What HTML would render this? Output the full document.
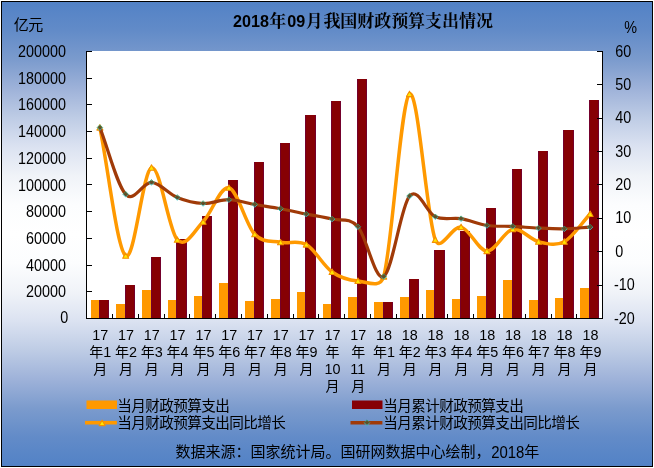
<!DOCTYPE html>
<html lang="zh-CN">
<head>
<meta charset="utf-8">
<title>2018年09月我国财政预算支出情况</title>
<style>
html,body{margin:0;padding:0;background:#fff}
body{width:654px;height:468px;overflow:hidden;font-family:"Liberation Sans",sans-serif}
svg{display:block}
svg text{font-family:"Liberation Sans","Noto Sans CJK SC",sans-serif}
svg text.ts{font-family:"Liberation Serif","Noto Serif CJK SC",serif;font-weight:bold}
</style>
</head>
<body>
<svg style="will-change:transform" width="654" height="468" viewBox="0 0 654 468" role="img">
<defs>
<linearGradient id="bg" x1="0" y1="0" x2="0" y2="1">
<stop offset="0" stop-color="#5282C6"/>
<stop offset="0.0625" stop-color="#628BC8"/>
<stop offset="0.125" stop-color="#7B9BCD"/>
<stop offset="0.1875" stop-color="#9EB2D9"/>
<stop offset="0.25" stop-color="#BECCE5"/>
<stop offset="0.3125" stop-color="#DBE2F1"/>
<stop offset="0.375" stop-color="#F0F3F8"/>
<stop offset="0.4375" stop-color="#FCFDFE"/>
<stop offset="0.5" stop-color="#FFFFFF"/>
<stop offset="0.5625" stop-color="#FCFDFE"/>
<stop offset="0.625" stop-color="#F0F3F8"/>
<stop offset="0.6875" stop-color="#DBE2F1"/>
<stop offset="0.75" stop-color="#BECCE5"/>
<stop offset="0.8125" stop-color="#9EB2D9"/>
<stop offset="0.875" stop-color="#7B9BCD"/>
<stop offset="0.9375" stop-color="#628BC8"/>
<stop offset="1" stop-color="#5282C6"/>
</linearGradient>
</defs>
<rect x="0" y="0" width="654" height="468" fill="#fff"/>
<rect x="1.5" y="1.5" width="651" height="465" fill="url(#bg)" stroke="#000" stroke-width="1"/>
<rect x="86" y="51" width="517" height="268" fill="#fff"/>
<g shape-rendering="crispEdges">
<rect x="91" y="300.34" width="8" height="17.66" fill="#FF9900"/>
<rect x="99" y="300.34" width="10" height="17.66" fill="#860004"/>
<rect x="116" y="304.22" width="9" height="13.78" fill="#FF9900"/>
<rect x="125" y="285.31" width="10" height="32.69" fill="#860004"/>
<rect x="142" y="290.39" width="9" height="27.61" fill="#FF9900"/>
<rect x="151" y="257.2" width="10" height="60.8" fill="#860004"/>
<rect x="168" y="300.06" width="8" height="17.94" fill="#FF9900"/>
<rect x="176" y="238.76" width="11" height="79.24" fill="#860004"/>
<rect x="194" y="296.09" width="8" height="21.91" fill="#FF9900"/>
<rect x="202" y="216.35" width="10" height="101.65" fill="#860004"/>
<rect x="219" y="282.5" width="9" height="35.5" fill="#FF9900"/>
<rect x="228" y="180.35" width="10" height="137.65" fill="#860004"/>
<rect x="245" y="300.51" width="9" height="17.49" fill="#FF9900"/>
<rect x="254" y="162.36" width="10" height="155.64" fill="#860004"/>
<rect x="271" y="298.91" width="9" height="19.09" fill="#FF9900"/>
<rect x="280" y="142.78" width="10" height="175.22" fill="#860004"/>
<rect x="297" y="291.5" width="8" height="26.5" fill="#FF9900"/>
<rect x="305" y="115.05" width="11" height="202.95" fill="#860004"/>
<rect x="323" y="304.18" width="8" height="13.82" fill="#FF9900"/>
<rect x="331" y="101.45" width="10" height="216.55" fill="#860004"/>
<rect x="348" y="297.41" width="9" height="20.59" fill="#FF9900"/>
<rect x="357" y="78.79" width="10" height="239.21" fill="#860004"/>
<rect x="374" y="301.61" width="9" height="16.39" fill="#FF9900"/>
<rect x="383" y="301.61" width="10" height="16.39" fill="#860004"/>
<rect x="400" y="297.27" width="9" height="20.73" fill="#FF9900"/>
<rect x="409" y="279.4" width="10" height="38.6" fill="#860004"/>
<rect x="426" y="289.52" width="8" height="28.48" fill="#FF9900"/>
<rect x="434" y="250.42" width="11" height="67.58" fill="#860004"/>
<rect x="452" y="299.21" width="8" height="18.79" fill="#FF9900"/>
<rect x="460" y="231.46" width="10" height="86.54" fill="#860004"/>
<rect x="477" y="296.34" width="9" height="21.66" fill="#FF9900"/>
<rect x="486" y="208.1" width="10" height="109.9" fill="#860004"/>
<rect x="503" y="280.32" width="9" height="37.68" fill="#FF9900"/>
<rect x="512" y="168.71" width="10" height="149.29" fill="#860004"/>
<rect x="529" y="300.21" width="9" height="17.79" fill="#FF9900"/>
<rect x="538" y="150.91" width="10" height="167.09" fill="#860004"/>
<rect x="555" y="298.34" width="8" height="19.66" fill="#FF9900"/>
<rect x="563" y="129.86" width="11" height="188.14" fill="#860004"/>
<rect x="580" y="288.42" width="9" height="29.58" fill="#FF9900"/>
<rect x="589" y="99.96" width="10" height="218.04" fill="#860004"/>
<path d="M99.5 300.34V318M108.5 300.34V318M125.5 285.31V318M134.5 285.31V318M151.5 257.2V318M160.5 257.2V318M176.5 238.76V318M186.5 238.76V318M202.5 216.35V318M211.5 216.35V318M228.5 180.35V318M237.5 180.35V318M254.5 162.36V318M263.5 162.36V318M280.5 142.78V318M289.5 142.78V318M305.5 115.05V318M315.5 115.05V318M331.5 101.45V318M340.5 101.45V318M357.5 78.79V318M366.5 78.79V318M383.5 301.61V318M392.5 301.61V318M409.5 279.4V318M418.5 279.4V318M434.5 250.42V318M444.5 250.42V318M460.5 231.46V318M469.5 231.46V318M486.5 208.1V318M495.5 208.1V318M512.5 168.71V318M521.5 168.71V318M538.5 150.91V318M547.5 150.91V318M563.5 129.86V318M573.5 129.86V318M589.5 99.96V318M598.5 99.96V318" stroke="#6E0038" stroke-opacity="0.75" stroke-width="1" fill="none"/>
</g>
<path d="M86.5 51V319M602.5 51V319M86 318.5H603M87 51.5H92M87 78.5H92M87 104.5H92M87 131.5H92M87 158.5H92M87 184.5H92M87 211.5H92M87 238.5H92M87 265.5H92M87 291.5H92M87 318.5H92M597 51.5H602M597 84.5H602M597 118.5H602M597 151.5H602M597 184.5H602M597 218.5H602M597 251.5H602M597 285.5H602M597 318.5H602M112.5 314V318M138.5 314V318M164.5 314V318M189.5 314V318M215.5 314V318M241.5 314V318M267.5 314V318M293.5 314V318M318.5 314V318M344.5 314V318M370.5 314V318M396.5 314V318M422.5 314V318M447.5 314V318M473.5 314V318M499.5 314V318M525.5 314V318M551.5 314V318M576.5 314V318" fill="none" stroke="#000" stroke-width="1" shape-rendering="crispEdges"/>
<path d="M99.9 127.6C108.5 170.33 117.1 249.12 125.7 255.8C134.3 262.48 142.9 170.37 151.5 167.7C160.1 165.03 168.7 230.78 177.3 239.8C185.9 248.82 194.5 230.47 203.1 221.8C211.7 213.13 220.3 185.72 228.9 187.8C237.5 189.88 246.1 225.22 254.7 234.3C263.3 243.38 271.9 240.58 280.5 242.3C289.1 244.02 297.7 239.65 306.3 244.6C314.9 249.55 323.5 265.93 332.1 272C340.7 278.07 349.3 280.23 357.9 281C366.5 281.77 380.22 289.21 383.7 276.6C392.3 245.45 400.9 100.22 409.5 94.1C418.1 87.98 426.7 217.73 435.3 239.9C440.51 253.33 452.5 225.23 461.1 227.1C469.7 228.97 478.3 250.75 486.9 251.1C495.5 251.45 504.1 230.77 512.7 229.2C521.3 227.63 529.9 239.62 538.5 241.7C547.1 243.78 555.7 246.32 564.3 241.7C572.9 237.08 581.5 223.23 590.1 214" fill="none" stroke="#FF9900" stroke-width="3.5" stroke-linejoin="round" stroke-linecap="round"/>
<path d="M99.9 124.7 L102.9 130.1 L96.9 130.1 ZM125.7 252.9 L128.7 258.3 L122.7 258.3 ZM151.5 164.8 L154.5 170.2 L148.5 170.2 ZM177.3 236.9 L180.3 242.3 L174.3 242.3 ZM203.1 218.9 L206.1 224.3 L200.1 224.3 ZM228.9 184.9 L231.9 190.3 L225.9 190.3 ZM254.7 231.4 L257.7 236.8 L251.7 236.8 ZM280.5 239.4 L283.5 244.8 L277.5 244.8 ZM306.3 241.7 L309.3 247.1 L303.3 247.1 ZM332.1 269.1 L335.1 274.5 L329.1 274.5 ZM357.9 278.1 L360.9 283.5 L354.9 283.5 ZM383.7 273.7 L386.7 279.1 L380.7 279.1 ZM409.5 91.2 L412.5 96.6 L406.5 96.6 ZM435.3 237 L438.3 242.4 L432.3 242.4 ZM461.1 224.2 L464.1 229.6 L458.1 229.6 ZM486.9 248.2 L489.9 253.6 L483.9 253.6 ZM512.7 226.3 L515.7 231.7 L509.7 231.7 ZM538.5 238.8 L541.5 244.2 L535.5 244.2 ZM564.3 238.8 L567.3 244.2 L561.3 244.2 ZM590.1 211.1 L593.1 216.5 L587.1 216.5 Z" fill="#FFE800" stroke="#F59000" stroke-width="1.1" stroke-linejoin="round"/>
<path d="M99.9 127.6C108.5 149.83 117.1 185.17 125.7 194.3C134.3 203.43 142.9 181.87 151.5 182.4C160.1 182.93 168.7 193.98 177.3 197.5C185.9 201.02 194.5 203.13 203.1 203.5C211.7 203.87 220.3 199.53 228.9 199.7C237.5 199.87 246.1 203 254.7 204.5C263.3 206 271.9 207.1 280.5 208.7C289.1 210.3 297.7 212.38 306.3 214.1C314.9 215.82 323.5 216.9 332.1 219C340.7 221.1 349.3 217.1 357.9 226.7C366.5 236.3 375.1 281.7 383.7 276.6C392.3 271.5 400.9 206.07 409.5 196.1C418.1 186.13 426.7 213.03 435.3 216.8C443.9 220.57 452.5 217.25 461.1 218.7C469.7 220.15 478.3 224.22 486.9 225.5C495.5 226.78 504.1 225.97 512.7 226.4C521.3 226.83 529.9 227.7 538.5 228.1C547.1 228.5 555.7 228.97 564.3 228.8C572.9 228.63 581.5 227.67 590.1 227.1" fill="none" stroke="#A03A08" stroke-width="3.2" stroke-linejoin="round" stroke-linecap="round"/>
<path d="M99.9 124.8 L102.7 127.6 L99.9 130.4 L97.1 127.6 ZM125.7 191.5 L128.5 194.3 L125.7 197.1 L122.9 194.3 ZM151.5 179.6 L154.3 182.4 L151.5 185.2 L148.7 182.4 ZM177.3 194.7 L180.1 197.5 L177.3 200.3 L174.5 197.5 ZM203.1 200.7 L205.9 203.5 L203.1 206.3 L200.3 203.5 ZM228.9 196.9 L231.7 199.7 L228.9 202.5 L226.1 199.7 ZM254.7 201.7 L257.5 204.5 L254.7 207.3 L251.9 204.5 ZM280.5 205.9 L283.3 208.7 L280.5 211.5 L277.7 208.7 ZM306.3 211.3 L309.1 214.1 L306.3 216.9 L303.5 214.1 ZM332.1 216.2 L334.9 219 L332.1 221.8 L329.3 219 ZM357.9 223.9 L360.7 226.7 L357.9 229.5 L355.1 226.7 ZM383.7 273.8 L386.5 276.6 L383.7 279.4 L380.9 276.6 ZM409.5 193.3 L412.3 196.1 L409.5 198.9 L406.7 196.1 ZM435.3 214 L438.1 216.8 L435.3 219.6 L432.5 216.8 ZM461.1 215.9 L463.9 218.7 L461.1 221.5 L458.3 218.7 ZM486.9 222.7 L489.7 225.5 L486.9 228.3 L484.1 225.5 ZM512.7 223.6 L515.5 226.4 L512.7 229.2 L509.9 226.4 ZM538.5 225.3 L541.3 228.1 L538.5 230.9 L535.7 228.1 ZM564.3 226 L567.1 228.8 L564.3 231.6 L561.5 228.8 ZM590.1 224.3 L592.9 227.1 L590.1 229.9 L587.3 227.1 Z" fill="#2F5F45" fill-opacity="0.55"/>
<path d="M97.1 127.6 L99.9 130.4 L102.7 127.6M122.9 194.3 L125.7 197.1 L128.5 194.3M148.7 182.4 L151.5 185.2 L154.3 182.4M174.5 197.5 L177.3 200.3 L180.1 197.5M200.3 203.5 L203.1 206.3 L205.9 203.5M226.1 199.7 L228.9 202.5 L231.7 199.7M251.9 204.5 L254.7 207.3 L257.5 204.5M277.7 208.7 L280.5 211.5 L283.3 208.7M303.5 214.1 L306.3 216.9 L309.1 214.1M329.3 219 L332.1 221.8 L334.9 219M355.1 226.7 L357.9 229.5 L360.7 226.7M380.9 276.6 L383.7 279.4 L386.5 276.6M406.7 196.1 L409.5 198.9 L412.3 196.1M432.5 216.8 L435.3 219.6 L438.1 216.8M458.3 218.7 L461.1 221.5 L463.9 218.7M484.1 225.5 L486.9 228.3 L489.7 225.5M509.9 226.4 L512.7 229.2 L515.5 226.4M535.7 228.1 L538.5 230.9 L541.3 228.1M561.5 228.8 L564.3 231.6 L567.1 228.8M587.3 227.1 L590.1 229.9 L592.9 227.1" fill="none" stroke="#33CCCC" stroke-opacity="0.85" stroke-width="0.9"/>
<path d="M97.1 127.6 L99.9 124.8 L102.7 127.6M122.9 194.3 L125.7 191.5 L128.5 194.3M148.7 182.4 L151.5 179.6 L154.3 182.4M174.5 197.5 L177.3 194.7 L180.1 197.5M200.3 203.5 L203.1 200.7 L205.9 203.5M226.1 199.7 L228.9 196.9 L231.7 199.7M251.9 204.5 L254.7 201.7 L257.5 204.5M277.7 208.7 L280.5 205.9 L283.3 208.7M303.5 214.1 L306.3 211.3 L309.1 214.1M329.3 219 L332.1 216.2 L334.9 219M355.1 226.7 L357.9 223.9 L360.7 226.7M380.9 276.6 L383.7 273.8 L386.5 276.6M406.7 196.1 L409.5 193.3 L412.3 196.1M432.5 216.8 L435.3 214 L438.1 216.8M458.3 218.7 L461.1 215.9 L463.9 218.7M484.1 225.5 L486.9 222.7 L489.7 225.5M509.9 226.4 L512.7 223.6 L515.5 226.4M535.7 228.1 L538.5 225.3 L541.3 228.1M561.5 228.8 L564.3 226 L567.1 228.8M587.3 227.1 L590.1 224.3 L592.9 227.1" fill="none" stroke="#339966" stroke-opacity="0.85" stroke-width="0.9"/>
<g fill="#000">
<g aria-label="2018年09月我国财政预算支出情况"><title>2018年09月我国财政预算支出情况</title>
<text transform="translate(233.1 26.5) scale(1.0117 1)" font-size="16" font-weight="bold">2018</text>
<text class="ts" x="269.2" y="26.9" font-size="17">年</text>
<text transform="translate(287.2 26.5) scale(1.0117 1)" font-size="16" font-weight="bold">09</text>
<text class="ts" x="305.8" y="26.9" font-size="17">月</text>
<text class="ts" x="323.38" y="26.9" font-size="17" letter-spacing="-0.05">我国财政预算支出情况</text>
</g>
<g aria-label="亿元"><title>亿元</title>
<text x="13.75" y="29.6" font-size="15" letter-spacing="-0.5">亿元</text>
</g>
<text transform="translate(624.3 33.2) scale(0.9165 1)" font-size="15.7">%</text>
<text transform="translate(18 57) scale(0.9165 1)" font-size="15.7">200000</text>
<text transform="translate(18 83.7) scale(0.9165 1)" font-size="15.7">180000</text>
<text transform="translate(18 110.4) scale(0.9165 1)" font-size="15.7">160000</text>
<text transform="translate(18 137.1) scale(0.9165 1)" font-size="15.7">140000</text>
<text transform="translate(18 163.8) scale(0.9165 1)" font-size="15.7">120000</text>
<text transform="translate(18 190.5) scale(0.9165 1)" font-size="15.7">100000</text>
<text transform="translate(26 217.2) scale(0.9165 1)" font-size="15.7">80000</text>
<text transform="translate(26 243.9) scale(0.9165 1)" font-size="15.7">60000</text>
<text transform="translate(26 270.6) scale(0.9165 1)" font-size="15.7">40000</text>
<text transform="translate(26 297.3) scale(0.9165 1)" font-size="15.7">20000</text>
<text transform="translate(60.2 323.4) scale(0.9165 1)" font-size="15.7">0</text>
<text transform="translate(615.3 56.5) scale(0.9165 1)" font-size="15.7">60</text>
<text transform="translate(615.3 89.88) scale(0.9165 1)" font-size="15.7">50</text>
<text transform="translate(615.3 123.25) scale(0.9165 1)" font-size="15.7">40</text>
<text transform="translate(615.3 156.62) scale(0.9165 1)" font-size="15.7">30</text>
<text transform="translate(615.3 190) scale(0.9165 1)" font-size="15.7">20</text>
<text transform="translate(615.3 223.38) scale(0.9165 1)" font-size="15.7">10</text>
<text transform="translate(615.3 256.75) scale(0.9165 1)" font-size="15.7">0</text>
<text transform="translate(614 290.12) scale(0.9165 1)" font-size="15.7">-10</text>
<text transform="translate(614 323.5) scale(0.9165 1)" font-size="15.7">-20</text>
<g aria-label="17年1月"><title>17年1月</title>
<text transform="translate(92.2 339.9) scale(1.0062 1)" font-size="14.3">17</text>
<text x="89.2" y="357.4" font-size="14">年</text>
<text transform="translate(103.2 356.8) scale(1.0062 1)" font-size="14.3">1</text>
<text x="93.2" y="374.3" font-size="14">月</text>
</g>
<g aria-label="17年2月"><title>17年2月</title>
<text transform="translate(118 339.9) scale(1.0062 1)" font-size="14.3">17</text>
<text x="115" y="357.4" font-size="14">年</text>
<text transform="translate(129 356.8) scale(1.0062 1)" font-size="14.3">2</text>
<text x="119" y="374.3" font-size="14">月</text>
</g>
<g aria-label="17年3月"><title>17年3月</title>
<text transform="translate(143.8 339.9) scale(1.0062 1)" font-size="14.3">17</text>
<text x="140.8" y="357.4" font-size="14">年</text>
<text transform="translate(154.8 356.8) scale(1.0062 1)" font-size="14.3">3</text>
<text x="144.8" y="374.3" font-size="14">月</text>
</g>
<g aria-label="17年4月"><title>17年4月</title>
<text transform="translate(169.6 339.9) scale(1.0062 1)" font-size="14.3">17</text>
<text x="166.6" y="357.4" font-size="14">年</text>
<text transform="translate(180.6 356.8) scale(1.0062 1)" font-size="14.3">4</text>
<text x="170.6" y="374.3" font-size="14">月</text>
</g>
<g aria-label="17年5月"><title>17年5月</title>
<text transform="translate(195.4 339.9) scale(1.0062 1)" font-size="14.3">17</text>
<text x="192.4" y="357.4" font-size="14">年</text>
<text transform="translate(206.4 356.8) scale(1.0062 1)" font-size="14.3">5</text>
<text x="196.4" y="374.3" font-size="14">月</text>
</g>
<g aria-label="17年6月"><title>17年6月</title>
<text transform="translate(221.2 339.9) scale(1.0062 1)" font-size="14.3">17</text>
<text x="218.2" y="357.4" font-size="14">年</text>
<text transform="translate(232.2 356.8) scale(1.0062 1)" font-size="14.3">6</text>
<text x="222.2" y="374.3" font-size="14">月</text>
</g>
<g aria-label="17年7月"><title>17年7月</title>
<text transform="translate(247 339.9) scale(1.0062 1)" font-size="14.3">17</text>
<text x="244" y="357.4" font-size="14">年</text>
<text transform="translate(258 356.8) scale(1.0062 1)" font-size="14.3">7</text>
<text x="248" y="374.3" font-size="14">月</text>
</g>
<g aria-label="17年8月"><title>17年8月</title>
<text transform="translate(272.8 339.9) scale(1.0062 1)" font-size="14.3">17</text>
<text x="269.8" y="357.4" font-size="14">年</text>
<text transform="translate(283.8 356.8) scale(1.0062 1)" font-size="14.3">8</text>
<text x="273.8" y="374.3" font-size="14">月</text>
</g>
<g aria-label="17年9月"><title>17年9月</title>
<text transform="translate(298.6 339.9) scale(1.0062 1)" font-size="14.3">17</text>
<text x="295.6" y="357.4" font-size="14">年</text>
<text transform="translate(309.6 356.8) scale(1.0062 1)" font-size="14.3">9</text>
<text x="299.6" y="374.3" font-size="14">月</text>
</g>
<g aria-label="17年10月"><title>17年10月</title>
<text transform="translate(324.4 339.9) scale(1.0062 1)" font-size="14.3">17</text>
<text x="325.4" y="357.4" font-size="14">年</text>
<text transform="translate(324.4 373.7) scale(1.0062 1)" font-size="14.3">10</text>
<text x="325.4" y="391.2" font-size="14">月</text>
</g>
<g aria-label="17年11月"><title>17年11月</title>
<text transform="translate(350.2 339.9) scale(1.0062 1)" font-size="14.3">17</text>
<text x="351.2" y="357.4" font-size="14">年</text>
<text transform="translate(350.2 373.7) scale(1.0062 1)" font-size="14.3">11</text>
<text x="351.2" y="391.2" font-size="14">月</text>
</g>
<g aria-label="18年1月"><title>18年1月</title>
<text transform="translate(376 339.9) scale(1.0062 1)" font-size="14.3">18</text>
<text x="373" y="357.4" font-size="14">年</text>
<text transform="translate(387 356.8) scale(1.0062 1)" font-size="14.3">1</text>
<text x="377" y="374.3" font-size="14">月</text>
</g>
<g aria-label="18年2月"><title>18年2月</title>
<text transform="translate(401.8 339.9) scale(1.0062 1)" font-size="14.3">18</text>
<text x="398.8" y="357.4" font-size="14">年</text>
<text transform="translate(412.8 356.8) scale(1.0062 1)" font-size="14.3">2</text>
<text x="402.8" y="374.3" font-size="14">月</text>
</g>
<g aria-label="18年3月"><title>18年3月</title>
<text transform="translate(427.6 339.9) scale(1.0062 1)" font-size="14.3">18</text>
<text x="424.6" y="357.4" font-size="14">年</text>
<text transform="translate(438.6 356.8) scale(1.0062 1)" font-size="14.3">3</text>
<text x="428.6" y="374.3" font-size="14">月</text>
</g>
<g aria-label="18年4月"><title>18年4月</title>
<text transform="translate(453.4 339.9) scale(1.0062 1)" font-size="14.3">18</text>
<text x="450.4" y="357.4" font-size="14">年</text>
<text transform="translate(464.4 356.8) scale(1.0062 1)" font-size="14.3">4</text>
<text x="454.4" y="374.3" font-size="14">月</text>
</g>
<g aria-label="18年5月"><title>18年5月</title>
<text transform="translate(479.2 339.9) scale(1.0062 1)" font-size="14.3">18</text>
<text x="476.2" y="357.4" font-size="14">年</text>
<text transform="translate(490.2 356.8) scale(1.0062 1)" font-size="14.3">5</text>
<text x="480.2" y="374.3" font-size="14">月</text>
</g>
<g aria-label="18年6月"><title>18年6月</title>
<text transform="translate(505 339.9) scale(1.0062 1)" font-size="14.3">18</text>
<text x="502" y="357.4" font-size="14">年</text>
<text transform="translate(516 356.8) scale(1.0062 1)" font-size="14.3">6</text>
<text x="506" y="374.3" font-size="14">月</text>
</g>
<g aria-label="18年7月"><title>18年7月</title>
<text transform="translate(530.8 339.9) scale(1.0062 1)" font-size="14.3">18</text>
<text x="527.8" y="357.4" font-size="14">年</text>
<text transform="translate(541.8 356.8) scale(1.0062 1)" font-size="14.3">7</text>
<text x="531.8" y="374.3" font-size="14">月</text>
</g>
<g aria-label="18年8月"><title>18年8月</title>
<text transform="translate(556.6 339.9) scale(1.0062 1)" font-size="14.3">18</text>
<text x="553.6" y="357.4" font-size="14">年</text>
<text transform="translate(567.6 356.8) scale(1.0062 1)" font-size="14.3">8</text>
<text x="557.6" y="374.3" font-size="14">月</text>
</g>
<g aria-label="18年9月"><title>18年9月</title>
<text transform="translate(582.4 339.9) scale(1.0062 1)" font-size="14.3">18</text>
<text x="579.4" y="357.4" font-size="14">年</text>
<text transform="translate(593.4 356.8) scale(1.0062 1)" font-size="14.3">9</text>
<text x="583.4" y="374.3" font-size="14">月</text>
</g>
</g>
<g aria-label="当月财政预算支出"><title>当月财政预算支出</title>
<rect x="86.5" y="400.5" width="30.5" height="8.5" fill="#FF9900"/>
<g fill="#000">
<text x="117.3" y="410.6" font-size="14.6" letter-spacing="-0.6">当月财政预算支出</text>
</g></g>
<g aria-label="当月累计财政预算支出"><title>当月累计财政预算支出</title>
<rect x="352" y="400.5" width="30.5" height="8.5" fill="#860004"/>
<g fill="#000">
<text x="383.3" y="410.6" font-size="14.6" letter-spacing="-0.6">当月累计财政预算支出</text>
</g></g>
<g aria-label="当月财政预算支出同比增长"><title>当月财政预算支出同比增长</title>
<path d="M85 422.7H116.9" stroke="#FF9900" stroke-width="3.6" fill="none"/>
<path d="M102.1 420.2 L105.1 425.6 L99.1 425.6 Z" fill="#FFE800" stroke="#F59000" stroke-width="1.1" stroke-linejoin="round"/>
<g fill="#000">
<text x="117.3" y="427.6" font-size="14.6" letter-spacing="-0.6">当月财政预算支出同比增长</text>
</g></g>
<g aria-label="当月累计财政预算支出同比增长"><title>当月累计财政预算支出同比增长</title>
<path d="M350.5 422.7H382.4" stroke="#A03A08" stroke-width="3.6" fill="none"/>
<path d="M367 419.9 L369.8 422.7 L367 425.5 L364.2 422.7 Z" fill="#2F5F45" fill-opacity="0.55"/>
<path d="M364.2 422.7 L367 425.5 L369.8 422.7" fill="none" stroke="#33CCCC" stroke-opacity="0.85" stroke-width="0.9"/>
<path d="M364.2 422.7 L367 419.9 L369.8 422.7" fill="none" stroke="#339966" stroke-opacity="0.85" stroke-width="0.9"/>
<g fill="#000">
<text x="383.3" y="427.6" font-size="14.6" letter-spacing="-0.6">当月累计财政预算支出同比增长</text>
</g></g>
<g fill="#000" aria-label="数据来源：国家统计局。国研网数据中心绘制，2018年"><title>数据来源：国家统计局。国研网数据中心绘制，2018年</title>
<text x="175.6" y="457.4" font-size="15">数据来源：国家统计局。国研网数据中心绘制，</text>
<text transform="translate(491.2 457.6) scale(0.9569 1)" font-size="15.6">2018</text>
<text x="524.2" y="457.4" font-size="15">年</text>
</g>
</svg>
</body>
</html>
